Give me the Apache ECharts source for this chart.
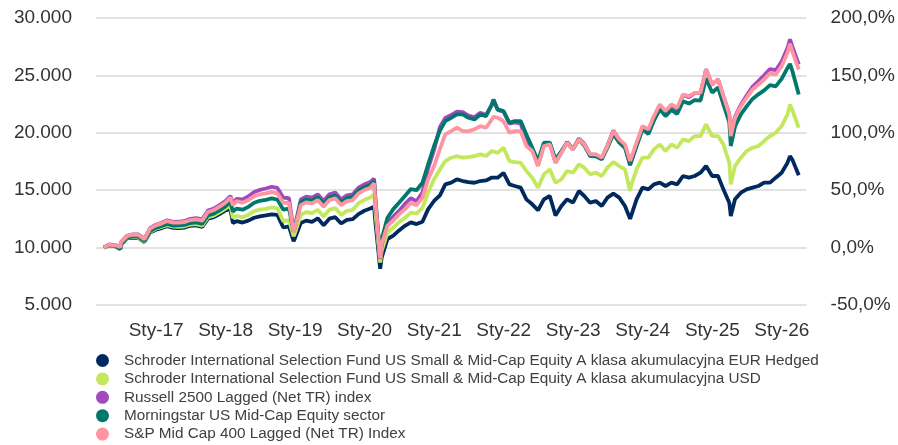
<!DOCTYPE html>
<html lang="pl">
<head>
<meta charset="UTF-8" />
<title>Wyniki funduszu</title>
<style>
  * { margin: 0; padding: 0; }
  #main { width: 898px; height: 445px; }
</style>
</head>
<body>
<div id="main"></div>
<script src="https://cdn.jsdelivr.net/npm/echarts@6.0.0/dist/echarts.min.js"></script>
<script>
// daty (koniec miesiąca + kilka dni z wyraźnymi ekstremami)
const dates = [
  '2016-03-31', '2016-04-30', '2016-05-31', '2016-06-27', '2016-06-30', '2016-07-31', '2016-08-31', '2016-09-30', '2016-10-31', '2016-11-30', '2016-12-31',
  '2017-01-31', '2017-02-28', '2017-03-31', '2017-04-30', '2017-05-31', '2017-06-30', '2017-07-31', '2017-08-31', '2017-09-30', '2017-10-31', '2017-11-30', '2017-12-31',
  '2018-01-26', '2018-02-08', '2018-02-28', '2018-03-31', '2018-04-30', '2018-05-31', '2018-06-30', '2018-07-31', '2018-08-31', '2018-09-30', '2018-10-31', '2018-11-30', '2018-12-24', '2018-12-31',
  '2019-01-31', '2019-02-28', '2019-03-31', '2019-04-30', '2019-05-31', '2019-06-30', '2019-07-31', '2019-08-31', '2019-09-30', '2019-10-31', '2019-11-30', '2019-12-31',
  '2020-01-31', '2020-02-20', '2020-02-28', '2020-03-23', '2020-03-31', '2020-04-30', '2020-05-31', '2020-06-30', '2020-07-31', '2020-08-31', '2020-09-30', '2020-10-31', '2020-11-30', '2020-12-31',
  '2021-01-31', '2021-02-28', '2021-03-31', '2021-04-30', '2021-05-31', '2021-06-30', '2021-07-31', '2021-08-31', '2021-09-30', '2021-10-31', '2021-11-08', '2021-11-30', '2021-12-31',
  '2022-01-31', '2022-02-28', '2022-03-31', '2022-04-30', '2022-05-31', '2022-06-30', '2022-07-31', '2022-08-31', '2022-09-30', '2022-10-31', '2022-11-30', '2022-12-31',
  '2023-01-31', '2023-02-28', '2023-03-31', '2023-04-30', '2023-05-31', '2023-06-30', '2023-07-31', '2023-08-31', '2023-09-30', '2023-10-27', '2023-10-31', '2023-11-30', '2023-12-31',
  '2024-01-31', '2024-02-29', '2024-03-31', '2024-04-30', '2024-05-31', '2024-06-30', '2024-07-31', '2024-08-31', '2024-09-30', '2024-10-31', '2024-11-29', '2024-12-31',
  '2025-01-31', '2025-02-28', '2025-03-31', '2025-04-08', '2025-04-30', '2025-05-31', '2025-06-30', '2025-07-31', '2025-08-31', '2025-09-30', '2025-10-31', '2025-11-30', '2025-12-31',
  '2026-01-31', '2026-02-13', '2026-02-27', '2026-03-31'
];

// Schroder ISF US Small & Mid-Cap Equity A Acc EUR Hedged
const fundEurHedged = [
  10000, 10190, 10100, 9880, 10230, 10800, 10880, 10840, 10480, 11320, 11560,
  11700, 11870, 11720, 11700, 11750, 11900, 11930, 11800, 12510, 12650, 12920, 13250,
  13350, 12150, 12300, 12180, 12350, 12600, 12720, 12800, 12900, 12850, 11750, 11850, 10550, 10800,
  12150, 12350, 12250, 12550, 11950, 12520, 12650, 12100, 12420, 12480, 12920, 13210,
  13400, 13550, 12000, 8150, 9150, 10750, 11050, 11500, 11900, 12200, 12050, 12250, 13350, 14060,
  14550, 15510, 15655, 15945, 15800, 15700, 15650, 15800, 15850, 16100, 16250, 16090, 16500,
  15510, 15365, 15220, 14200, 13770, 13250, 14205, 14495, 12800, 13625, 14205, 13915,
  14930, 14495, 13915, 14060, 13625, 14350, 14700, 14350, 13625, 12500, 12700, 14205, 15220,
  15075, 15510, 15655, 15365, 15655, 15510, 16235, 16090, 16235, 16525, 17105, 16235,
  16235, 15075, 13915, 12755, 14205, 14785, 15075, 15220, 15365, 15655, 15655, 16090, 16525,
  17395, 17975, 17600, 16300
];

// Schroder ISF US Small & Mid-Cap Equity A Acc USD
const fundUsd = [
  10000, 10200, 10120, 9890, 10250, 10840, 10930, 10890, 10520, 11380, 11640,
  11790, 11960, 11820, 11810, 11860, 12010, 12050, 11920, 12640, 12790, 13070, 13400,
  13650, 12600, 12750, 12650, 12850, 13180, 13300, 13380, 13500, 13420, 12300, 12400, 11000, 11250,
  12850, 13090, 13000, 13290, 12710, 13290, 13440, 12850, 13200, 13290, 13870, 14160,
  14360, 14640, 12900, 8700, 9700, 11300, 11750, 12200, 12600, 13050, 12950, 13450, 14800, 15950,
  16800, 17540, 17830, 17975, 17830, 17880, 17975, 18120, 17975, 18410, 18500, 18265, 18700,
  17540, 17450, 17395, 16670, 16090, 15220, 16380, 16815, 15655, 15945, 16670, 16525,
  17250, 16960, 16380, 16525, 16235, 16960, 17450, 17105, 16815, 14930, 15365, 16815, 17830,
  17830, 18555, 18990, 18410, 18990, 18700, 19425, 19280, 19715, 19715, 20730, 19715,
  19715, 18990, 17395, 15510, 17105, 17830, 18410, 18700, 18845, 19280, 19715, 20005, 20585,
  21600, 22470, 21900, 20440
];

// Russell 2500 Lagged (Net TR) index
const russell2500 = [
  10000, 10270, 10220, 10070, 10470, 11020, 11160, 11140, 10760, 11700, 11990,
  12170, 12380, 12240, 12250, 12320, 12500, 12570, 12460, 13220, 13400, 13710, 14050,
  14500, 13850, 14250, 14200, 14450, 14850, 15030, 15150, 15300, 15200, 14350, 14300, 11500, 11850,
  14200, 14440, 14350, 14640, 14060, 14640, 14790, 14200, 14550, 14640, 15220, 15510,
  15710, 16000, 14100, 9000, 10200, 12150, 12700, 13200, 13800, 14300, 14050, 14800, 16900, 18500,
  20500, 21300, 21550, 21850, 21800, 21500, 21350, 21750, 21550, 22450, 22850, 22000, 21850,
  20800, 20900, 20800, 19300, 18600, 17150, 18950, 19100, 17400, 18300, 19200, 18600,
  19500, 19050, 18100, 18100, 17800, 18900, 20200, 19400, 18800, 17150, 17350, 18950, 20500,
  20150, 21350, 22350, 21700, 22350, 22050, 23300, 23100, 23450, 23450, 25550, 24200,
  24650, 23200, 21650, 19800, 21400, 22450, 23250, 24000, 24500, 25000, 25550, 25450, 26200,
  27400, 28150, 27450, 25950
];

// Morningstar US Mid-Cap Equity sector
const morningstarSector = [
  10000, 10220, 10150, 9900, 10280, 10870, 10980, 10950, 10580, 11450, 11720,
  11880, 12060, 11920, 11930, 11980, 12140, 12190, 12070, 12800, 12960, 13250, 13580,
  14000, 13150, 13400, 13300, 13550, 13910, 14080, 14160, 14280, 14180, 13300, 13400, 11400, 11750,
  13950, 14190, 14100, 14390, 13810, 14390, 14540, 13950, 14300, 14390, 14970, 15260,
  15460, 15800, 13900, 9300, 10700, 12600, 13350, 13900, 14500, 15100, 15000, 15650, 17250, 18850,
  20200, 21020, 21310, 21600, 21600, 21310, 21165, 21600, 21455, 22470, 22900, 22035, 21890,
  20875, 21020, 21020, 19860, 18700, 17540, 19135, 19135, 17685, 18410, 19135, 18555,
  19425, 18900, 17975, 17950, 17685, 18700, 19900, 19150, 18700, 17250, 17400, 18850, 20300,
  19900, 21050, 22050, 21450, 22000, 21650, 22750, 22550, 22850, 22800, 24750, 23500,
  23950, 22500, 20900, 18850, 20550, 21600, 22300, 22950, 23350, 23700, 24150, 24050, 24700,
  25650, 26000, 25300, 23340
];

// S&P Mid Cap 400 Lagged (Net TR) Index
const spMidCap400 = [
  10000, 10260, 10200, 10050, 10450, 11000, 11130, 11100, 10720, 11650, 11940,
  12110, 12310, 12170, 12170, 12230, 12400, 12460, 12350, 13100, 13270, 13570, 13910,
  14350, 13700, 14050, 13910, 14140, 14490, 14640, 14720, 14840, 14720, 13900, 13900, 11350, 11700,
  13700, 13940, 13850, 14140, 13560, 14140, 14290, 13700, 14050, 14140, 14720, 15010,
  15210, 15600, 13750, 9070, 10300, 11900, 12350, 12900, 13350, 13900, 13700, 14350, 15950, 17100,
  18600, 19860, 20150, 20440, 20150, 20150, 20295, 20585, 20440, 21165, 21400, 21310, 21020,
  20005, 20150, 20150, 18845, 18410, 17105, 18845, 18990, 17395, 18265, 19135, 18555,
  19425, 18990, 18120, 18120, 17830, 18845, 20150, 19425, 18990, 17550, 17700, 19135, 20585,
  20295, 21455, 22470, 21890, 22470, 22180, 23340, 23195, 23485, 23485, 25515, 24210,
  24645, 23195, 21600, 19715, 21310, 22325, 23050, 23775, 24210, 24645, 25200, 25080, 25805,
  26965, 27750, 27000, 25510
];

const seriesNames = [
  'Schroder International Selection Fund US Small & Mid-Cap Equity A klasa akumulacyjna EUR Hedged',
  'Schroder International Selection Fund US Small & Mid-Cap Equity A klasa akumulacyjna USD',
  'Russell 2500 Lagged (Net TR) index',
  'Morningstar US Mid-Cap Equity sector',
  'S&P Mid Cap 400 Lagged (Net TR) Index'
];
const seriesColors = ['#002a5e', '#c3e85e', '#a349c0', '#00786b', '#ff95a0'];

// etykiety osi X (1 stycznia każdego roku)
const tickYears = [2017, 2018, 2019, 2020, 2021, 2022, 2023, 2024, 2025, 2026];
const tickLabels = ['Sty-17', 'Sty-18', 'Sty-19', 'Sty-20', 'Sty-21', 'Sty-22', 'Sty-23', 'Sty-24', 'Sty-25', 'Sty-26'];

// oś X jako liczby (ms), żeby móc podać własne pozycje etykiet
const toMs = (s) => Date.UTC(+s.slice(0, 4), +s.slice(5, 7) - 1, +s.slice(8, 10));
const tickTimes = tickYears.map((y) => Date.UTC(y, 0, 1));
const seriesValues = [fundEurHedged, fundUsd, russell2500, morningstarSector, spMidCap400];

var myChart = echarts.init(document.getElementById('main'));

function formatThousands(v) {
  const rest = String(v % 1000).padStart(3, '0');
  return Math.floor(v / 1000) + '.' + rest;
}

const labelFont = { fontSize: 19, color: '#333333', fontFamily: 'Liberation Sans, Arial, sans-serif' };

let option = {
  animation: false,
  textStyle: { fontFamily: 'Liberation Sans, Arial, sans-serif' },
  grid: { left: 96, right: 90, top: 18, bottom: 140 },
  legend: {
    data: seriesNames,
    orient: 'vertical',
    left: 91,
    top: 348,
    height: 110,
    icon: 'circle',
    itemWidth: 13,
    itemHeight: 13,
    itemGap: 3.4,
    selectedMode: false,
    textStyle: { fontSize: 15.3, lineHeight: 15, color: '#404040', padding: [0, 0, 0, 10] }
  },
  xAxis: {
    type: 'value',
    min: Date.UTC(2016, 1, 20),
    max: Date.UTC(2026, 4, 11),
    axisLine: { show: false },
    axisTick: { show: false },
    splitLine: { show: false },
    axisLabel: Object.assign({}, labelFont, {
      margin: 16,
      customValues: tickTimes,
      formatter: (v) => {
        const i = tickTimes.indexOf(v);
        return i >= 0 ? tickLabels[i] : '';
      }
    })
  },
  yAxis: [
    {
      type: 'value',
      min: 5000,
      max: 30000,
      interval: 5000,
      axisLine: { show: false },
      axisTick: { show: false },
      splitLine: { lineStyle: { color: '#e2e2e2', width: 2 } },
      axisLabel: Object.assign({}, labelFont, { margin: 24, formatter: formatThousands })
    },
    {
      type: 'value',
      min: -50,
      max: 200,
      interval: 50,
      position: 'right',
      axisLine: { show: false },
      axisTick: { show: false },
      splitLine: { show: false },
      axisLabel: Object.assign({}, labelFont, {
        margin: 24,
        formatter: (v) => v.toFixed(1).replace('.', ',') + '%'
      })
    }
  ],
  series: seriesNames.map((name, i) => ({
    name: name,
    type: 'line',
    showSymbol: false,
    color: seriesColors[i],
    lineStyle: { width: 3.8, color: seriesColors[i] },
    data: dates.map((d, j) => [toMs(d), seriesValues[i][j]])
  }))
};

myChart.setOption(option);
</script>
</body>
</html>
